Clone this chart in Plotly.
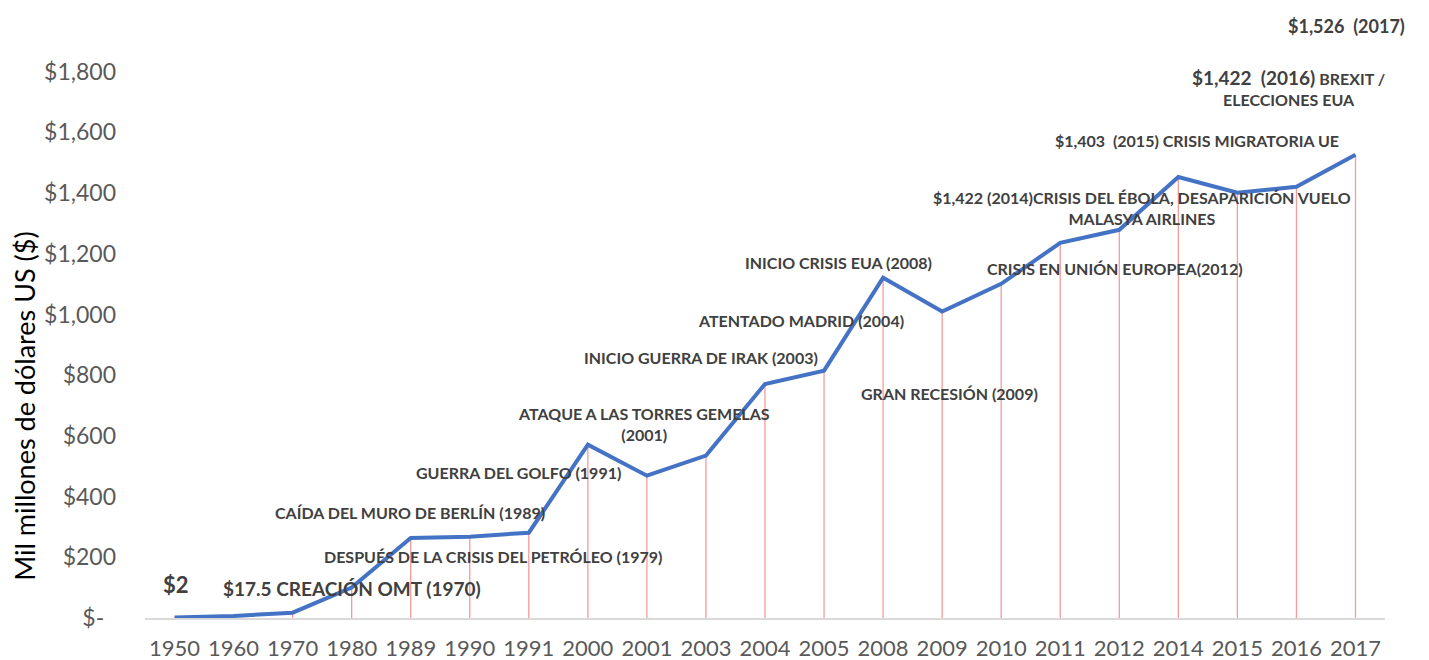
import plotly.graph_objects as go

years = ["1950", "1960", "1970", "1980", "1989", "1990", "1991", "2000", "2001", "2003",
         "2004", "2005", "2008", "2009", "2010", "2011", "2012", "2014", "2015", "2016", "2017"]
values = [2, 7, 17.5, 100, 264, 268, 281, 571, 469, 535,
          771, 815, 1121, 1010, 1101, 1236, 1279, 1453, 1401, 1421, 1526]

y_ticks = [0, 200, 400, 600, 800, 1000, 1200, 1400, 1600, 1800]
y_tick_text = ["$-  ", "$200", "$400", "$600", "$800", "$1,000", "$1,200", "$1,400", "$1,600", "$1,800"]

y_title = "Mil millones de dólares US ($)"

# annotations: (text, x category index position, y value, font size)
notes = [
    ("$2", 0.03, 109, 22),
    ("$17.5 CREACIÓN OMT (1970)", 3.01, 96, 19),
    ("DESPUÉS DE LA CRISIS DEL PETRÓLEO (1979)", 5.40, 204, 16),
    ("CAÍDA DEL MURO DE BERLÍN (1989)", 3.99, 349, 16),
    ("GUERRA DEL GOLFO (1991)", 5.82, 478, 16),
    ("ATAQUE A LAS TORRES GEMELAS<br>(2001)", 7.95, 638, 16),
    ("INICIO GUERRA DE IRAK (2003)", 8.92, 857, 16),
    ("ATENTADO MADRID (2004)", 10.61, 979, 16),
    ("INICIO CRISIS EUA (2008)", 11.24, 1170, 16),
    ("GRAN RECESIÓN (2009)", 13.13, 739, 16),
    ("CRISIS EN UNIÓN EUROPEA(2012)", 15.92, 1151, 16),
    ("$1,422 (2014)CRISIS DEL ÉBOLA, DESAPARICIÓN VUELO<br>MALASYA AIRLINES", 16.38, 1350, 16),
    ("$1,403  (2015) CRISIS MIGRATORIA UE", 17.31, 1573, 16),
    ("<span style='font-size:19px'>$1,422  (2016)</span> BREXIT /<br>ELECCIONES EUA", 18.87, 1749, 16),
    ("$1,526  (2017)", 19.85, 1952, 18),
]

FONT = "Lato"
fig = go.Figure()

# drop lines
drop_x, drop_y = [], []
for yr, v in zip(years, values):
    drop_x += [yr, yr, None]
    drop_y += [0, v, None]
fig.add_trace(go.Scatter(x=drop_x, y=drop_y, mode="lines",
                         line=dict(color="#F79A9A", width=1.3),
                         hoverinfo="skip", showlegend=False))

fig.add_trace(go.Scatter(x=years, y=values, mode="lines",
                         line=dict(color="#4472C4", width=4),
                         showlegend=False))

for text, xi, yv, size in notes:
    fig.add_annotation(x=xi, y=yv, xref="x", yref="y", text=text, showarrow=False,
                       font=dict(family=FONT, size=size, color="#404040", weight="bold"),
                       align="center", xanchor="center", yanchor="middle")

# y axis title placed as in the reference (lower than plot centre)
fig.add_annotation(x=0, y=696, xref="paper", yref="y", xshift=-120, text=y_title,
                   textangle=-90, showarrow=False, xanchor="center", yanchor="middle",
                   font=dict(family=FONT, size=27, color="#000000"))

# page body adds an 8px offset, so the figure is sized to fit the window
fig.update_layout(
    width=1421, height=652,
    margin=dict(l=137, r=44, t=3, b=42, autoexpand=False),
    plot_bgcolor="white", paper_bgcolor="white",
    font=dict(family=FONT),
    xaxis=dict(type="category", categoryorder="array", categoryarray=years,
               range=[-0.5, len(years) - 0.5], automargin=False,
               showgrid=False, zeroline=False,
               showline=True, linecolor="#D9D9D9", linewidth=2,
               ticks="", tickfont=dict(family=FONT, size=22, color="#595959"),
               ticklabelstandoff=10),
    yaxis=dict(range=[0, 2000], showgrid=False, zeroline=False, showline=False,
               automargin=False,
               tickvals=y_ticks, ticktext=y_tick_text, ticks="",
               tickfont=dict(family=FONT, size=23, color="#595959"),
               ticklabelstandoff=28),
)

fig.write_html("out.html")
